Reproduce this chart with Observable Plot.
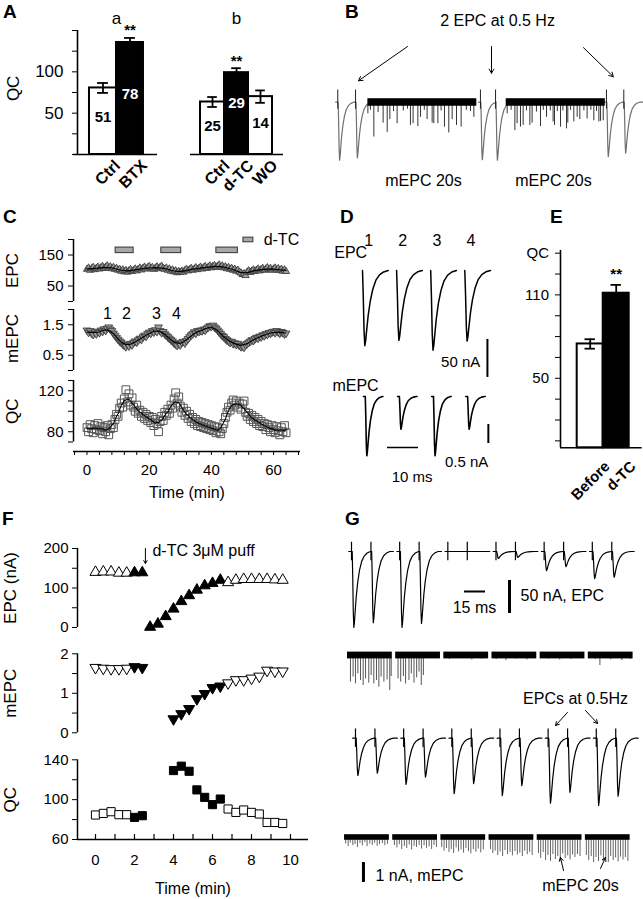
<!DOCTYPE html>
<html>
<head>
<meta charset="utf-8">
<script src="https://cdn.jsdelivr.net/npm/d3@7"></script>
<script src="https://cdn.jsdelivr.net/npm/@observablehq/plot@0.6"></script>
<style>
html,body{margin:0;padding:0;background:#fff;}
#fig{position:relative;width:643px;height:899px;overflow:hidden;background:#fff;font-family:"Liberation Sans",Arial,Helvetica,sans-serif;color:#000;}
#fig svg, #fig svg text{font-family:"Liberation Sans",Arial,Helvetica,sans-serif;}
.letter{position:absolute;font-weight:bold;font-size:19px;line-height:19px;}
</style>
</head>
<body>
<div id="fig">
  <div class="letter" style="left:3px;top:2px">A</div>
  <div class="letter" style="left:345px;top:2px">B</div>
  <div class="letter" style="left:3px;top:207px">C</div>
  <div class="letter" style="left:340px;top:207px">D</div>
  <div class="letter" style="left:550px;top:207px">E</div>
  <div class="letter" style="left:2px;top:509px">F</div>
  <div class="letter" style="left:345px;top:509px">G</div>
</div>
<script>
// ======================= DATA =======================
// Panel A (QC bar charts)
const A_A_CATS = ["Ctrl", "BTX"];
const A_A_QC = [80.5, 135.5];
const A_A_ERR = [6, 5.5];
const A_A_N = [51, 78];
const A_A_DRUG = [0, 1];
const A_A_SIG = ["", "**"];
const A_B_CATS = ["Ctrl", "d-TC", "WO"];
const A_B_QC = [63.5, 99, 70];
const A_B_ERR = [6, 5.4, 7.5];
const A_B_N = [25, 29, 14];
const A_B_DRUG = [0, 1, 0];
const A_B_SIG = ["", "**", ""];
const A_Y_TICKS = [0, 25, 50, 75, 100, 125, 150];

// Panel E
const E_CATS = ["Before", "d-TC"];
const E_QC = [74.7, 111.2];
const E_ERR = [3.4, 6];
const E_DRUG = [0, 1];
const E_SIG = ["", "**"];
const E_Y_TICKS = [5, 20, 35, 50, 65, 80, 95, 110, 125, 140];

// EPC waveform template (normalised time, normalised current)
const SHAPE_T = [0, 0.03, 0.06, 0.09, 0.12, 0.16, 0.22, 0.30, 0.40, 0.52, 0.66, 0.82, 1];
const SHAPE_V = [0, -0.35, -0.8, -1, -0.94, -0.8, -0.6, -0.41, -0.25, -0.13, -0.06, -0.02, 0];

// Panel B (display time units, current in display units)
const B_EPC_T = [5.2, 17.9, 107.1, 117.9, 197.1, 209.5];
const B_EPC_AMP = [100, 96, 99, 100, 94, 88];
const B_SEG_START = [26.7, 125.5];
const B_SEG_END = [104.5, 196.3];
const B_MINI_1 = [[26.7,20],[28.5,14],[30.95,60],[34,18],[37.6,36],[40.5,52],[42.4,30],[45,16],[47.6,37],[52,15],[55,12],[57.1,40],[59,37],[62.4,42],[64.3,26],[67,14],[69,30],[72.6,36],[73.8,37],[76.7,37],[79,15],[81.4,43],[84.5,53],[86.9,30],[90,40],[93.3,43],[97,14],[100,16],[102.4,26]];
const B_MINI_2 = [[126.2,20],[129,14],[131.7,49],[133.3,37],[135.7,43],[137.6,40],[140,15],[142.4,40],[144,36],[147.1,17],[150,42],[152,14],[154.3,26],[157,15],[159,34],[160,40],[162,16],[164.3,43],[166,15],[168.6,46],[169.5,36],[171.5,14],[173.8,34],[176.2,26],[178.1,30],[181,15],[183.3,29],[186,14],[188.1,32],[190,16],[191.7,34],[192.9,33],[194.8,32]];

// Panel C (sampled every C_DT minutes from t = 0)
const C_DT = 0.5;
const C_EPC = [
  104,108,101,106,110,103,107,111,105,109,
  113,107,111,115,108,112,106,110,104,107,
  101,104,98,102,96,100,95,99,103,97,
  101,105,99,104,108,102,107,111,105,109,
  113,106,110,104,108,112,106,110,114,107,
  104,108,101,105,98,102,96,99,93,97,
  94,98,95,100,104,99,103,107,101,105,
  109,103,107,111,105,109,113,107,111,115,
  109,113,116,110,114,118,111,115,109,112,
  106,110,104,107,101,104,98,101,95,92,
  87,90,84,95,99,94,98,102,97,101,
  105,99,103,107,101,105,109,103,107,101,
  105,108,102,106,100,104,98,102,97];
const C_MEPC = [
  1.32,1.25,1.30,1.22,1.18,1.26,1.20,1.28,1.24,1.32,
  1.28,1.36,1.31,1.38,1.42,1.35,1.30,1.22,1.15,1.08,
  1.02,0.96,0.92,0.86,0.82,0.78,0.85,0.80,0.88,0.84,
  0.92,0.96,0.93,1.00,1.05,1.02,1.10,1.15,1.12,1.20,
  1.25,1.22,1.30,1.26,1.33,1.28,1.42,1.30,1.24,1.27,
  1.20,1.15,1.10,1.05,1.00,0.96,0.90,0.86,0.82,0.88,
  0.84,0.92,0.95,0.90,0.98,1.04,1.10,1.16,1.20,1.26,
  1.22,1.30,1.28,1.32,1.30,1.35,1.32,1.38,1.42,1.46,
  1.44,1.48,1.42,1.38,1.32,1.26,1.20,1.14,1.10,1.04,
  1.00,0.96,0.92,0.95,0.88,0.90,0.85,0.88,0.82,0.78,
  0.80,0.76,0.84,0.88,0.92,0.96,1.00,0.98,1.04,1.08,
  1.06,1.12,1.10,1.16,1.14,1.20,1.18,1.24,1.22,1.26,
  1.28,1.24,1.30,1.26,1.22,1.27,1.24,1.20,1.22];
const C_QC = [
  84,80,87,83,79,86,82,88,81,85,
  78,84,80,86,77,83,87,84,92,97,
  95,103,108,104,112,121,109,117,106,113,
  104,100,106,98,101,95,99,93,97,91,
  95,89,94,86,92,88,80,90,95,91,
  99,96,102,98,106,103,112,118,108,114,
  105,99,103,96,100,93,97,90,94,88,
  92,86,90,85,89,84,88,83,87,82,
  86,81,85,79,84,80,78,83,88,94,
  99,104,101,108,111,106,110,104,108,102,
  107,110,99,95,98,92,96,90,94,88,
  92,86,90,85,88,82,87,84,80,86,
  82,79,85,81,77,84,80,86,79];
const C_DTC_START = [9.2, 23.9, 41.6];
const C_DTC_END = [15.0, 30.3, 48.5];
const C_MARK_T = [6.6, 12.7, 22.3, 28.8];
const C_MARK_LABEL = ["1", "2", "3", "4"];
const C_XTICKS = [-4,0,4,8,12,16,20,24,28,32,36,40,44,48,52,56,60,64,68];

// Panel D
const D_EPC_AMP = [99, 92, 105, 93];      // nA
const D_MEPC_AMP = [1.56, 0.86, 1.56, 0.86]; // nA
const D_LABELS = ["1", "2", "3", "4"];

// Panel F
const F_TIME = [0,0.4,0.8,1.2,1.6,2.0,2.4, 2.8,3.2,3.6,4.0,4.4,4.8,5.2,5.6,6.0,6.4, 6.8,7.2,7.6,8.0,8.4,8.8,9.2,9.6];
const F_FILLED = [0,0,0,0,0,1,1, 1,1,1,1,1,1,1,1,1,1, 0,0,0,0,0,0,0,0];
const F_EPC = [140,141,141,138,138,139,139, 1,9,28,47,66,81,95,106,112,120, 114,120,122,122,122,122,121,120];
const F_MEPC = [1.65,1.63,1.62,1.62,1.63,1.67,1.65, null,null,null, 0.35,0.48,0.61,0.86,0.99,1.14,1.18, 1.26,1.34,1.34,1.38,1.43,1.58,1.56,1.56];
const F_QC = [84.6,86.2,87.9,84.9,84.9,82.2,83.9, null,null,null, 129.2,133.6,128.5,109.8,102.3,95,100.6, 90.6,87.2,89.6,87.2,85.6,77.1,77.1,76.1];

// Panel G
const G_ROW1_AMP1 = [115, 115, 0, 10.6, 29, 41];
const G_ROW1_AMP2 = [108, 109, 0, 9, 23, 39];
const G_ROW3_AMP1 = [56.5, 70, 84, 87, 98.5, 102];
const G_ROW3_AMP2 = [53, 59, 69, 72, 82, 88];
const G_ROW2_MINIS = [
  [[2.1,1.33],[4,1.08],[5.7,1.42],[7.4,0.92],[9.3,1.25],[11.2,1.5],[12.9,1.17],[15.2,1.38],[16.9,1.0],[18.8,1.42],[20.7,1.25],[22.4,1.58],[24,1.08],[26,1.33],[28.3,1.22],[30.2,1.75],[31.2,1.05]],
  [[1.7,1.17],[3.6,1.33],[5.5,1.05],[7.1,1.42],[9.5,1.25],[11.2,0.92],[13.1,1.38],[15,1.12],[16.7,0.83],[18.3,1.5],[19.8,1.0]],
  [[4,0.2],[12,0.15],[20,0.22],[27,0.18]],
  [[3,0.2],[10,0.25],[17,0.18],[25,0.22]],
  [[6,0.18],[14,0.22],[22,0.2],[29,0.16]],
  [[5,0.2],[8.3,0.5],[16,0.22],[24,0.25],[30,0.2]]
];
const G_ROW4_MINIS = [
  [[0.8,.32],[2.6,.45],[4.1,.28],[5.9,.4],[7.5,.35],[9.2,.5],[11,.3],[12.7,.42],[14.5,.26],[16.1,.46],[18,.33],[19.8,.4],[21.5,.29],[23.3,.44],[25,.36],[27,.3],[28.8,.41],[30.7,.34]],
  [[1.2,.4],[3,.52],[4.7,.36],[6.4,.6],[8.3,.45],[10,.55],[11.8,.38],[13.5,.62],[15.3,.44],[17,.5],[18.9,.4],[20.6,.58],[22.4,.42],[24.1,.54],[26,.47],[27.8,.6],[29.5,.4],[31.2,.5]],
  [[0.6,.5],[2.3,.68],[4,.55],[5.8,.75],[7.4,.6],[9.1,.8],[10.9,.52],[12.6,.72],[14.4,.63],[16.2,.78],[17.9,.55],[19.7,.7],[21.4,.82],[23.2,.6],[25,.74],[26.7,.58],[28.5,.77],[30.3,.62]],
  [[1,.6],[2.7,.8],[4.4,.68],[6.2,.9],[7.9,.72],[9.7,.95],[11.4,.66],[13.2,.85],[15,.75],[16.7,.92],[18.5,.7],[20.2,.88],[22,.78],[23.8,.95],[25.5,.68],[27.3,.86],[29,.74],[30.8,.9]],
  [[0.9,.8],[2.5,1.05],[4.3,.75],[6,1.15],[7.7,.9],[9.5,1.2],[11.2,.85],[13,1.1],[14.7,.95],[16.5,1.18],[18.2,.82],[20,1.05],[21.8,.92],[23.5,1.12],[25.3,.88],[27,1.0],[28.8,.85],[30.6,.95]],
  [[0.7,.9],[2.4,1.15],[4.2,.95],[5.9,1.25],[7.6,1.0],[9.4,1.2],[11.1,.92],[12.9,1.18],[14.6,1.05],[16.4,1.25],[18.1,.95],[19.9,1.15],[21.6,1.02],[23.4,1.22],[25.1,.98],[26.9,1.12],[28.6,1.0],[30.4,1.2]]
];

// ======================= HELPERS =======================
const FONT = '"Liberation Sans", Arial, Helvetica, sans-serif';
const fig = document.getElementById("fig");
function put(left, top, opts) {
  const svg = Plot.plot(Object.assign({color: {type: "identity"}}, opts));
  svg.style.position = "absolute";
  svg.style.left = left + "px";
  svg.style.top = top + "px";
  svg.style.background = "transparent";
  svg.style.overflow = "visible";
  svg.style.fontFamily = FONT;
  svg.style.maxWidth = "none";
  fig.appendChild(svg);
  return svg;
}
const MID = {textAnchor: "middle", lineAnchor: "middle"};
function barRows(cats, vals, errs, drug, sig, ns) {
  return cats.map((c, i) => ({i, c, v: vals[i], e: errs[i], dark: drug[i] === 1, sig: sig[i], n: ns ? ns[i] : null}));
}
function barMarks(rows, sigOffset) {
  return [
    Plot.rect(rows, {x1: d => d.i, x2: d => d.i + 1, y1: 0, y2: "v", fill: d => d.dark ? "black" : "white", stroke: "black", strokeWidth: 2}),
    Plot.ruleX(rows, {x: d => d.i + 0.5, y1: d => d.v - d.e, y2: d => d.v + d.e, strokeWidth: 1.8}),
    Plot.ruleY(rows, {y: d => d.v + d.e, x1: d => d.i + 0.3, x2: d => d.i + 0.7, strokeWidth: 1.8}),
    Plot.ruleY(rows, {y: d => d.v - d.e, x1: d => d.i + 0.3, x2: d => d.i + 0.7, strokeWidth: 1.8}),
    Plot.text(rows.filter(d => d.sig), {x: d => d.i + 0.5, y: d => d.v + d.e + sigOffset, text: "sig", fontSize: 15, fontWeight: "bold"})
  ];
}
function wave(id, t0, amp, dur) {
  return SHAPE_T.map((f, k) => ({g: id, t: t0 + f * dur, v: amp * SHAPE_V[k]}));
}
function sweep(id, tA, tB, events, dur, lag) {
  let pts = [{g: id, t: tA, v: 0}];
  events.forEach(e => { pts = pts.concat(wave(id, e.t + lag, e.amp, dur)); });
  pts.push({g: id, t: tB, v: 0});
  return pts;
}

// ======================= PANEL A =======================
const aRowsA = barRows(A_A_CATS, A_A_QC, A_A_ERR, A_A_DRUG, A_A_SIG, A_A_N);
put(0, 0, {
  width: 165, height: 195, marginLeft: 77, marginRight: 8, marginTop: 30, marginBottom: 41,
  x: {domain: [-0.444, 2.519], axis: null},
  y: {domain: [0, 150]},
  marks: [
    ...barMarks(aRowsA, 9),
    Plot.ruleY([0], {x1: -0.59, x2: 2.519, strokeWidth: 1.6}),
    Plot.ruleX([-0.444], {y1: 0, y2: 150, strokeWidth: 1.6}),
    Plot.axisY({ticks: A_Y_TICKS, label: null, tickSize: 5, tickPadding: 9, tickFormat: d => (d === 50 || d === 100) ? String(d) : "", fontSize: 17}),
    Plot.text(aRowsA, {x: d => d.i + 0.5, y: d => d.dark ? d.v * 0.54 : d.v * 0.56, text: d => String(d.n), fill: d => d.dark ? "white" : "black", fontSize: 15, fontWeight: "bold"}),
    Plot.text(["a"], {x: 1, y: 164, fontSize: 17}),
    Plot.text(aRowsA, {x: d => d.i + 0.5, y: 0, text: "c", rotate: -45, textAnchor: "end", lineAnchor: "top", dx: 10, dy: 4, fontSize: 16, fontWeight: "bold"}),
    Plot.text(["QC"], {x: -0.444, y: 80, dx: -64, rotate: -90, fontSize: 17, ...MID})
  ]
});
const aRowsB = barRows(A_B_CATS, A_B_QC, A_B_ERR, A_B_DRUG, A_B_SIG, A_B_N);
put(185, 0, {
  width: 100, height: 195, marginLeft: 5, marginRight: 2, marginTop: 30, marginBottom: 41,
  x: {domain: [-0.4167, 3.458], axis: null},
  y: {domain: [0, 150], axis: null},
  marks: [
    ...barMarks(aRowsB, 9),
    Plot.ruleY([0], {strokeWidth: 1.6}),
    Plot.text(aRowsB, {x: d => d.i + 0.5, y: d => d.dark ? d.v * 0.63 : d.v * 0.54, text: d => String(d.n), fill: d => d.dark ? "white" : "black", fontSize: 15, fontWeight: "bold"}),
    Plot.text(["b"], {x: 1.5, y: 164, fontSize: 17}),
    Plot.text(aRowsB, {x: d => d.i + 0.5, y: 0, text: "c", rotate: -45, textAnchor: "end", lineAnchor: "top", dx: 10, dy: 4, fontSize: 16, fontWeight: "bold"})
  ]
});

// ======================= PANEL B =======================
{
  let tr = [];
  for (let p = 0; p < 3; p++) {
    const t1 = B_EPC_T[2 * p], t2 = B_EPC_T[2 * p + 1];
    tr = tr.concat(sweep("p" + p, t1 - 1.5, p === 2 ? 223.6 : t2 + 11.5,
      [{t: t1, amp: B_EPC_AMP[2 * p]}, {t: t2, amp: B_EPC_AMP[2 * p + 1]}], 11, 0.3));
  }
  const bands = B_SEG_START.map((s, i) => ({x1: s, x2: B_SEG_END[i]}));
  const minis = B_MINI_1.concat(B_MINI_2).map(([t, a]) => ({t, a}));
  const arrows = [{x1: 55, y1: 96, x2: 20, y2: 37}, {x1: 115, y1: 96, x2: 115, y2: 50}, {x1: 180.7, y1: 94, x2: 202, y2: 44}];
  put(330, 0, {
    width: 313, height: 200, marginLeft: 0, marginRight: 0, marginTop: 84.3, marginBottom: 34.5,
    x: {domain: [0, 223.57], axis: null},
    y: {domain: [-110, 30], axis: null},
    marks: [
      Plot.line(tr, {x: "t", y: "v", z: "g", stroke: "#6f6f6f", strokeWidth: 1.2}),
      Plot.ruleX(B_EPC_T, {x: d => d, y1: -12, y2: 21, stroke: "#222", strokeWidth: 1}),
      Plot.ruleX(minis, {x: "t", y1: -6, y2: d => -d.a, stroke: "#333", strokeWidth: 1}),
      Plot.rect(bands, {x1: "x1", x2: "x2", y1: -7, y2: 6, fill: "black"}),
      Plot.text(["2 EPC at 0.5 Hz"], {x: 119.3, y: 141, fontSize: 16}),
      Plot.arrow(arrows, {x1: "x1", y1: "y1", x2: "x2", y2: "y2", headLength: 7, strokeWidth: 1}),
      Plot.text(["mEPC 20s", "mEPC 20s"], {x: (d, i) => [66.4, 159.3][i], y: -135, fontSize: 16})
    ]
  });
}

// ======================= PANEL C =======================
{
  const cx = {domain: [-4.34, 68.65], axis: null};
  const rowsOf = arr => arr.map((v, i) => ({t: i * C_DT, v}));
  const TRI_DOWN = {draw(ctx, size) { const s3 = Math.sqrt(3); const y = -Math.sqrt(size / (s3 * 3)); ctx.moveTo(0, -y * 2); ctx.lineTo(-s3 * y, y); ctx.lineTo(s3 * y, y); ctx.closePath(); }};
  const dtc = C_DTC_START.map((s, i) => ({x1: s, x2: C_DTC_END[i]}));
  put(0, 225, {
    width: 305, height: 85, marginLeft: 73, marginRight: 5, marginTop: 14, marginBottom: 9,
    x: cx, y: {domain: [0, 200]},
    marks: [
      Plot.rect(dtc, {x1: "x1", x2: "x2", y1: 156, y2: 174, fill: "#a8a8a8", stroke: "#333", strokeWidth: 1}),
      Plot.rect([0], {x1: 50.3, x2: 53.5, y1: 191, y2: 206, fill: "#a8a8a8", stroke: "#333", strokeWidth: 1}),
      Plot.text(["d-TC"], {x: 56.8, y: 198, textAnchor: "start", fontSize: 16}),
      Plot.dot(rowsOf(C_EPC), {x: "t", y: "v", symbol: "triangle", r: 2.7, fill: "#9c9c9c", stroke: "#333", strokeWidth: 0.8}),
      Plot.line(rowsOf(C_EPC), Plot.windowY({k: 9}, {x: "t", y: "v", stroke: "black", strokeWidth: 1.2})),
      Plot.ruleX([-4.34], {y1: 0, y2: 200, strokeWidth: 1.5}),
      Plot.axisY({ticks: [0, 50, 100, 150, 200], label: null, tickSize: 5, tickPadding: 5, tickFormat: d => (d === 50 || d === 150) ? String(d) : "", fontSize: 15}),
      Plot.text(["EPC"], {x: -4.34, y: 100, dx: -61, rotate: -90, fontSize: 17, ...MID})
    ]
  });
  put(0, 305, {
    width: 305, height: 70, marginLeft: 73, marginRight: 5, marginTop: 4, marginBottom: 5,
    x: cx, y: {domain: [0, 2]},
    marks: [
      Plot.dot(rowsOf(C_MEPC), {x: "t", y: "v", symbol: TRI_DOWN, r: 2.9, fill: "#9c9c9c", stroke: "#333", strokeWidth: 0.8}),
      Plot.line(rowsOf(C_MEPC), Plot.windowY({k: 9}, {x: "t", y: "v", stroke: "black", strokeWidth: 1.2})),
      Plot.text(C_MARK_LABEL, {x: (d, i) => C_MARK_T[i], y: 1.87, fontSize: 16}),
      Plot.ruleX([-4.34], {y1: 0, y2: 2, strokeWidth: 1.5}),
      Plot.axisY({ticks: [0, 0.5, 1, 1.5, 2], label: null, tickSize: 5, tickPadding: 5, tickFormat: d => (d === 0.5 || d === 1.5) ? String(d) : "", fontSize: 15}),
      Plot.text(["mEPC"], {x: -4.34, y: 1.05, dx: -61, rotate: -90, fontSize: 17, ...MID})
    ]
  });
  put(0, 370, {
    width: 305, height: 130, marginLeft: 73, marginRight: 5, marginTop: 10, marginBottom: 49,
    x: {domain: [-4.34, 68.65]}, y: {domain: [60.73, 130]},
    marks: [
      Plot.dot(rowsOf(C_QC), {x: "t", y: "v", symbol: "square", r: 4.4, fill: "none", stroke: "#555", strokeWidth: 1}),
      Plot.line(rowsOf(C_QC), Plot.windowY({k: 7}, {x: "t", y: "v", stroke: "black", strokeWidth: 1.1})),
      Plot.ruleX([-4.34], {y1: 70, y2: 130, strokeWidth: 1.5}),
      Plot.axisY({ticks: [70, 80, 90, 100, 110, 120, 130], label: null, tickSize: 5, tickPadding: 5, tickFormat: d => (d === 80 || d === 120) ? String(d) : "", fontSize: 15}),
      Plot.ruleY([60.73], {strokeWidth: 1.5}),
      Plot.axisX({ticks: C_XTICKS, label: null, tickSize: 4, tickPadding: 9, tickFormat: d => (d >= 0 && d % 20 === 0) ? String(d) : "", fontSize: 15}),
      Plot.text(["QC"], {x: -4.34, y: 100, dx: -61, rotate: -90, fontSize: 17, ...MID}),
      Plot.text(["Time (min)"], {frameAnchor: "bottom", dy: 41, fontSize: 16, ...MID})
    ]
  });
}

// ======================= PANEL D =======================
{
  const GAP = 11;
  let epc = [], mepc = [];
  D_EPC_AMP.forEach((a, i) => { epc = epc.concat(sweep("e" + i, i * GAP, i * GAP + 8.3, [{t: i * GAP, amp: a}], 8.3, 0)); });
  D_MEPC_AMP.forEach((a, i) => { mepc = mepc.concat(sweep("m" + i, i * GAP + 0.3, i * GAP + 6.6, [{t: i * GAP + 0.9, amp: a}], 5.5, 0)); });
  put(300, 200, {
    width: 200, height: 190, marginLeft: 0, marginRight: 0, marginTop: 0, marginBottom: 0,
    x: {domain: [-20, 44.516], axis: null}, y: {domain: [-158, 92], axis: null},
    marks: [
      Plot.line(epc, {x: "t", y: "v", z: "g", stroke: "black", strokeWidth: 1.5}),
      Plot.text(D_LABELS, {x: (d, i) => i * GAP + 2, y: 39.5, fontSize: 16}),
      Plot.text(["EPC"], {x: 1.5, y: 23.7, textAnchor: "end", fontSize: 16}),
      Plot.ruleX([40.3], {y1: -90.8, y2: -140.8, strokeWidth: 2}),
      Plot.text(["50 nA"], {x: 38, y: -121, textAnchor: "end", fontSize: 15})
    ]
  });
  put(300, 375, {
    width: 200, height: 120, marginLeft: 0, marginRight: 0, marginTop: 0, marginBottom: 0,
    x: {domain: [-20, 44.516], axis: null}, y: {domain: [-2.6053, 0.5526], axis: null},
    marks: [
      Plot.line(mepc, {x: "t", y: "v", z: "g", stroke: "black", strokeWidth: 1.6}),
      Plot.text(["mEPC"], {x: 5.2, y: 0.29, textAnchor: "end", fontSize: 16}),
      Plot.ruleY([-1.342], {x1: 8.06, x2: 18.06, strokeWidth: 1.5}),
      Plot.text(["10 ms"], {x: 16, y: -2.12, fontSize: 15}),
      Plot.ruleX([40.6], {y1: -0.737, y2: -1.237, strokeWidth: 2}),
      Plot.text(["0.5 nA"], {x: 40.6, y: -1.74, textAnchor: "end", fontSize: 15})
    ]
  });
}

// ======================= PANEL E =======================
const eRows = barRows(E_CATS, E_QC, E_ERR, E_DRUG, E_SIG, null);
put(540, 240, {
  width: 103, height: 215, marginLeft: 20, marginRight: 1.3, marginTop: 9.9, marginBottom: 7.7,
  x: {domain: [-0.642, 2.5], axis: null}, y: {domain: [0, 142]},
  marks: [
    ...barMarks(eRows, 8),
    Plot.ruleY([0], {strokeWidth: 1.6}),
    Plot.ruleX([-0.642], {strokeWidth: 1.6}),
    Plot.axisY({ticks: E_Y_TICKS, label: null, tickSize: 5, tickPadding: 6.5, tickFormat: d => d === 140 ? "QC" : (d === 50 || d === 110) ? String(d) : "", fontSize: 15}),
    Plot.text(eRows, {x: d => d.i + 0.5, y: 0, text: "c", rotate: -45, textAnchor: "end", lineAnchor: "top", dx: 13, dy: 12, fontSize: 15, fontWeight: "bold"})
  ]
});

// ======================= PANEL F =======================
{
  const fx = {domain: [-0.923, 10.923], axis: null};
  const rows = F_TIME.map((t, i) => ({t, epc: F_EPC[i], mepc: F_MEPC[i], qc: F_QC[i], filled: F_FILLED[i] === 1}));
  const TRI_DOWN = {draw(ctx, size) { const s3 = Math.sqrt(3); const y = -Math.sqrt(size / (s3 * 3)); ctx.moveTo(0, -y * 2); ctx.lineTo(-s3 * y, y); ctx.lineTo(s3 * y, y); ctx.closePath(); }};
  const fill = d => d.filled ? "black" : "white";
  const common = {width: 315, marginLeft: 77, marginRight: 7};
  put(0, 530, Object.assign({}, common, {
    height: 105, marginTop: 18, marginBottom: 8,
    x: fx, y: {domain: [0, 200]},
    marks: [
      Plot.dot(rows.filter(d => d.epc != null), {x: "t", y: "epc", symbol: "triangle", r: 4.1, fill, stroke: "black", strokeWidth: 1}),
      Plot.ruleX([-0.923], {y1: 0, y2: 200, strokeWidth: 1.5}),
      Plot.axisY({ticks: [0, 50, 100, 150, 200], label: null, tickSize: 5, tickPadding: 4, tickFormat: d => d % 100 === 0 ? String(d) : "", fontSize: 15}),
      Plot.arrow([0], {x1: 2.56, y1: 200, x2: 2.56, y2: 162, headLength: 5, strokeWidth: 1}),
      Plot.text(["d-TC 3\u03bcM puff"], {x: 2.92, y: 195, textAnchor: "start", fontSize: 16}),
      Plot.text(["EPC (nA)"], {frameAnchor: "left", dx: -67, rotate: -90, fontSize: 17, ...MID})
    ]
  }));
  put(0, 640, Object.assign({}, common, {
    height: 100, marginTop: 13.3, marginBottom: 7.7,
    x: fx, y: {domain: [0, 2]},
    marks: [
      Plot.dot(rows.filter(d => d.mepc != null), {x: "t", y: "mepc", symbol: TRI_DOWN, r: 4.1, fill, stroke: "black", strokeWidth: 1}),
      Plot.ruleX([-0.923], {y1: 0, y2: 2, strokeWidth: 1.5}),
      Plot.axisY({ticks: [0, 0.5, 1, 1.5, 2], label: null, tickSize: 5, tickPadding: 4, tickFormat: d => Number.isInteger(d) ? String(d) : "", fontSize: 15}),
      Plot.text(["mEPC"], {frameAnchor: "left", dx: -67, rotate: -90, fontSize: 17, ...MID})
    ]
  }));
  put(0, 745, Object.assign({}, common, {
    height: 154, marginTop: 14.3, marginBottom: 60,
    x: {domain: [-0.923, 10.923]}, y: {domain: [60, 140]},
    marks: [
      Plot.dot(rows.filter(d => d.qc != null), {x: "t", y: "qc", symbol: "square", r: 4.6, fill, stroke: "black", strokeWidth: 1}),
      Plot.ruleX([-0.923], {y1: 60, y2: 140, strokeWidth: 1.5}),
      Plot.axisY({ticks: [60, 80, 100, 120, 140], label: null, tickSize: 5, tickPadding: 4, tickFormat: d => d % 40 === 20 ? String(d) : "", fontSize: 15}),
      Plot.ruleY([60], {strokeWidth: 1.5}),
      Plot.ruleX([0, 1, 2, 3, 4, 5, 6, 7, 8, 9, 10], {x: d => d, y1: 60, y2: 65, strokeWidth: 1.2}),
      Plot.axisX({ticks: [0, 2, 4, 6, 8, 10], label: null, tickSize: 0, tickPadding: 15, fontSize: 15}),
      Plot.text(["QC"], {frameAnchor: "left", dx: -67, rotate: -90, fontSize: 17, ...MID}),
      Plot.text(["Time (min)"], {frameAnchor: "bottom", dy: 49, fontSize: 16, ...MID})
    ]
  }));
}

// ======================= PANEL G =======================
{
  const gx = {domain: [0, 216.43], axis: null};
  const GAP = 34.4, PAIR = 13.9;
  const base = {width: 303, marginLeft: 0, marginRight: 0, marginTop: 0, marginBottom: 0};
  function epcRow(first, amp1, amp2) {
    let pts = [], stims = [];
    amp1.forEach((a, i) => {
      const s1 = first + i * GAP, s2 = s1 + PAIR;
      stims.push(s1, s2);
      pts = pts.concat(sweep("g" + i, s1 - 2, s2 + 16, [{t: s1, amp: a}, {t: s2, amp: amp2[i]}], 13, 0.5));
    });
    return {pts, stims};
  }
  function miniRow(first, minis) {
    const bands = minis.map((m, i) => ({x1: first + i * GAP, x2: first + i * GAP + 32}));
    const spikes = [];
    minis.forEach((m, i) => m.forEach(([r, a]) => spikes.push({t: first + i * GAP + r, a})));
    return {bands, spikes};
  }
  const r1 = epcRow(7.86, G_ROW1_AMP1, G_ROW1_AMP2);
  put(340, 530, Object.assign({}, base, {
    height: 100, x: gx, y: {domain: [-119.7, 31.82], axis: null},
    marks: [
      Plot.line(r1.pts, {x: "t", y: "v", z: "g", stroke: "black", strokeWidth: 1.2}),
      Plot.ruleX(r1.stims, {x: d => d, y1: -14, y2: 14, strokeWidth: 1.2}),
      Plot.ruleY([-60.6], {x1: 88.6, x2: 103.6, strokeWidth: 2}),
      Plot.text(["15 ms"], {x: 95.7, y: -84.8, fontSize: 16}),
      Plot.ruleX([120.7], {y1: -43.9, y2: -93.9, strokeWidth: 3}),
      Plot.text(["50 nA, EPC"], {x: 128.6, y: -66.7, textAnchor: "start", fontSize: 16})
    ]
  }));
  const r2 = miniRow(5, G_ROW2_MINIS);
  put(340, 640, Object.assign({}, base, {
    height: 60, x: gx, y: {domain: [-2.25, 0.75], axis: null},
    marks: [
      Plot.ruleX(r2.spikes, {x: "t", y1: -0.15, y2: d => -d.a, stroke: "#555", strokeWidth: 1}),
      Plot.rect(r2.bands, {x1: "x1", x2: "x2", y1: -0.17, y2: 0.17, fill: "black"})
    ]
  }));
  const r3 = epcRow(10.7, G_ROW3_AMP1, G_ROW3_AMP2);
  put(340, 700, Object.assign({}, base, {
    height: 120, x: gx, y: {domain: [-124.7, 57.12], axis: null},
    marks: [
      Plot.line(r3.pts, {x: "t", y: "v", z: "g", stroke: "black", strokeWidth: 1.2}),
      Plot.ruleX(r3.stims, {x: d => d, y1: -14, y2: 14, strokeWidth: 1.2}),
      Plot.text(["EPCs at 0.5Hz"], {x: 167.9, y: 60.2, fontSize: 16}),
      Plot.arrow([{x1: 162.1, y1: 39, x2: 153.6, y2: 19.2}, {x1: 175, y1: 42, x2: 183.6, y2: 22.3}], {x1: "x1", y1: "y1", x2: "x2", y2: "y2", headLength: 6, strokeWidth: 1})
    ]
  }));
  const r4 = miniRow(2.9, G_ROW4_MINIS);
  put(340, 820, Object.assign({}, base, {
    height: 79, x: gx, y: {domain: [-3.1, 0.85], axis: null},
    marks: [
      Plot.ruleX(r4.spikes, {x: "t", y1: -0.12, y2: d => -d.a, stroke: "#666", strokeWidth: 1}),
      Plot.rect(r4.bands, {x1: "x1", x2: "x2", y1: -0.14, y2: 0.14, fill: "black"}),
      Plot.ruleX([16.4], {y1: -1.25, y2: -2.25, strokeWidth: 3}),
      Plot.text(["1 nA, mEPC"], {x: 25, y: -1.9, textAnchor: "start", fontSize: 16}),
      Plot.text(["mEPC 20s"], {x: 171.4, y: -2.4, fontSize: 16}),
      Plot.arrow([{x1: 159.3, y1: -1.65, x2: 157.1, y2: -1.0}, {x1: 185.7, y1: -1.55, x2: 189.3, y2: -1.0}], {x1: "x1", y1: "y1", x2: "x2", y2: "y2", headLength: 6, strokeWidth: 1})
    ]
  }));
}
</script>
</body>
</html>
